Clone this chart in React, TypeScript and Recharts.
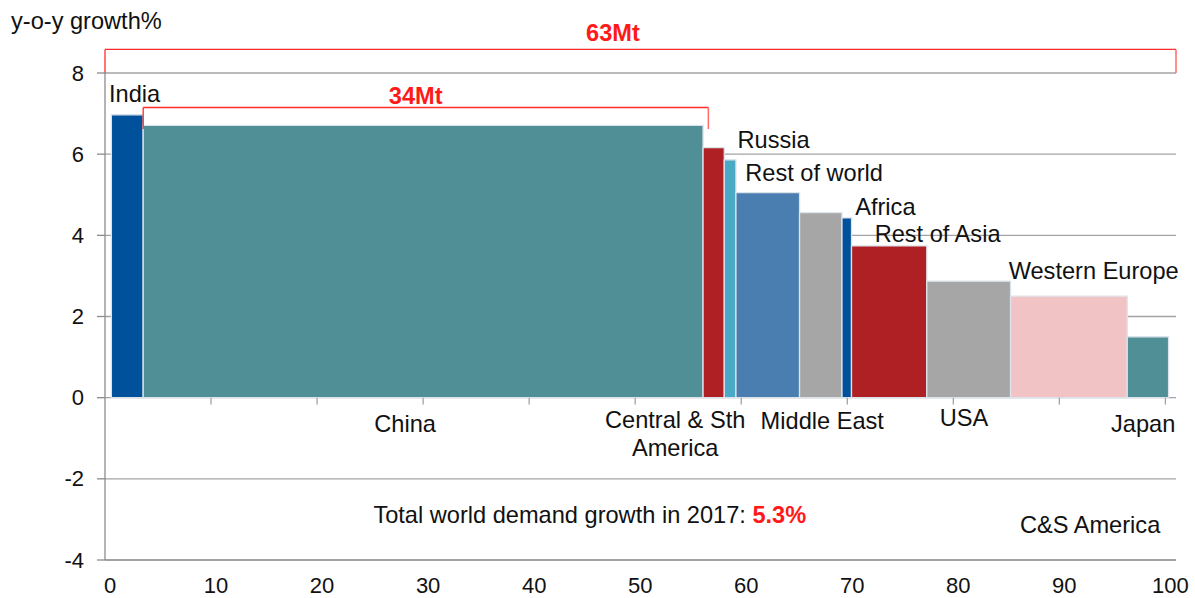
import React from "react";
import {
  ComposedChart,
  XAxis,
  YAxis,
  CartesianGrid,
  ReferenceArea,
  ReferenceLine,
  ReferenceDot,
  Label,
} from "recharts";

// regions, in the order they are stacked along the x axis
const regions = [
  "India",
  "China",
  "Central & Sth America",
  "Russia",
  "Rest of world",
  "Middle East",
  "Africa",
  "Rest of Asia",
  "USA",
  "Western Europe",
  "Japan",
];
// share of world demand (bar width, %)
const demandShare = [3.0, 52.8, 2.0, 1.1, 6.0, 4.0, 0.9, 7.1, 7.9, 11.0, 3.9];
// y-o-y growth (bar height, %)
const growth = [6.97, 6.71, 6.16, 5.86, 5.05, 4.56, 4.43, 3.74, 2.87, 2.5, 1.5];

const xTicks = [0, 10, 20, 30, 40, 50, 60, 70, 80, 90, 100];
const yTicks = [-4, -2, 0, 2, 4, 6, 8];

const totalGrowth = "5.3%";
const bracketLabels = ["63Mt", "34Mt"];
const bracketFrom = [0, 3.6];
const bracketTo = [101, 56.9];

// ---- styling / layout (not data) ----
const FONT = '"Liberation Sans", Arial, sans-serif';
const FS = 23.6;
const X_START = 0.6;
const colors = [
  "#00519c",
  "#518f97",
  "#ae2024",
  "#4aa9c5",
  "#4b7eb0",
  "#a6a6a6",
  "#00519c",
  "#ae2024",
  "#a6a6a6",
  "#f2c3c4",
  "#518f97",
];
const bracketTop = [8.58, 7.15];
const bracketBase = [8.0, 6.62];
const bracketText = [
  { x: 47.9, y: 8.98 },
  { x: 29.3, y: 7.44 },
];

// where each region name sits (data coords)
const labelPos: Record<string, { x: number; y: number; anchor: "start" | "middle"; lines?: string[] }> = {
  India: { x: 0.38, y: 7.49, anchor: "start" },
  China: { x: 28.3, y: -0.65, anchor: "middle" },
  "Central & Sth America": { x: 53.77, y: -0.55, anchor: "middle", lines: ["Central & Sth", "America"] },
  Russia: { x: 59.65, y: 6.35, anchor: "start" },
  "Rest of world": { x: 60.38, y: 5.53, anchor: "start" },
  "Middle East": { x: 67.64, y: -0.57, anchor: "middle" },
  Africa: { x: 70.75, y: 4.71, anchor: "start" },
  "Rest of Asia": { x: 72.58, y: 4.04, anchor: "start" },
  USA: { x: 81.0, y: -0.51, anchor: "middle" },
  "Western Europe": { x: 85.22, y: 3.11, anchor: "start" },
  Japan: { x: 97.9, y: -0.65, anchor: "middle" },
};

let cursor = X_START;
const bars = regions.map((name, i) => {
  const x1 = cursor;
  cursor += demandShare[i];
  return { name, x1, x2: cursor, y: growth[i], color: colors[i] };
});

const XTick = (props: any) => {
  const { x, y, payload } = props;
  return (
    <text x={x + 5} y={y + 33} textAnchor="middle" fontSize={22} fontFamily={FONT} fill="#111">
      {payload.value}
    </text>
  );
};

const YTick = (props: any) => {
  const { x, y, payload } = props;
  return (
    <text x={x} y={y} textAnchor="end" dominantBaseline="central" fontSize={22} fontFamily={FONT} fill="#111">
      {payload.value}
    </text>
  );
};

// text drawn at a data point
const textShape =
  (lines: string[], anchor: "start" | "middle", opts: { color?: string; bold?: boolean } = {}) =>
  (p: any) =>
    (
      <text
        x={p.cx}
        y={p.cy}
        textAnchor={anchor}
        dominantBaseline="central"
        fontSize={FS}
        fontFamily={FONT}
        fontWeight={opts.bold ? 700 : 400}
        fill={opts.color || "#111"}
      >
        {lines.map((l, i) => (
          <tspan key={i} x={p.cx} dy={i === 0 ? 0 : 27.6}>
            {l}
          </tspan>
        ))}
      </text>
    );

export default function App() {
  return (
    <div style={{ position: "absolute", left: 0, top: 0, background: "#fff" }}>
      <ComposedChart width={1195} height={598} data={bars} margin={{ top: 73, right: 19, bottom: 0, left: 0 }}>
        <CartesianGrid horizontal vertical={false} stroke="#a3a3a3" strokeWidth={1.3} />
        <XAxis
          type="number"
          dataKey="x1"
          domain={[0, 101]}
          ticks={xTicks}
          interval={0}
          allowDataOverflow
          height={38}
          tickLine={false}
          tickSize={0}
          tickMargin={0}
          axisLine={{ stroke: "#999", strokeWidth: 1.3 }}
          tick={<XTick />}
        />
        <YAxis
          type="number"
          domain={[-4, 8]}
          ticks={yTicks}
          interval={0}
          allowDataOverflow
          width={105}
          tickSize={8}
          tickMargin={13}
          tickLine={{ stroke: "#8c8c8c", strokeWidth: 1.3 }}
          axisLine={{ stroke: "#8c8c8c", strokeWidth: 1.3 }}
          tick={<YTick />}
        >
          <Label
            content={(p: any) => (
              <text
                x={11}
                y={p.viewBox.y - 52.5}
                dominantBaseline="central"
                fontSize={FS}
                fontFamily={FONT}
                fill="#111"
              >
                y-o-y growth%
              </text>
            )}
          />
        </YAxis>

        {/* tick marks on the zero line */}
        {xTicks.slice(1).map((t) => (
          <ReferenceLine
            key={"zt" + t}
            segment={[
              { x: t, y: 0 },
              { x: t, y: -0.17 },
            ]}
            stroke="#a3a3a3"
            strokeWidth={1.3}
            ifOverflow="visible"
          />
        ))}

        {/* variable-width bars */}
        {bars.map((b) => (
          <ReferenceArea
            key={b.name}
            x1={b.x1}
            x2={b.x2}
            y1={0}
            y2={b.y}
            fill={b.color}
            fillOpacity={1}
            stroke="#dde3ea"
            strokeWidth={1.3}
            ifOverflow="visible"
          />
        ))}

        {/* red brackets */}
        {bracketLabels.map((lab, i) => (
          <React.Fragment key={lab}>
            <ReferenceLine
              segment={[
                { x: bracketFrom[i], y: bracketBase[i] },
                { x: bracketFrom[i], y: bracketTop[i] },
              ]}
              stroke="#ff2a2a"
              strokeWidth={1.3}
              ifOverflow="visible"
            />
            <ReferenceLine
              segment={[
                { x: bracketFrom[i], y: bracketTop[i] },
                { x: bracketTo[i], y: bracketTop[i] },
              ]}
              stroke="#ff2a2a"
              strokeWidth={1.3}
              ifOverflow="visible"
            />
            <ReferenceLine
              segment={[
                { x: bracketTo[i], y: bracketTop[i] },
                { x: bracketTo[i], y: bracketBase[i] },
              ]}
              stroke="#ff6a6a"
              strokeWidth={1.5}
              ifOverflow="visible"
            />
            <ReferenceDot
              x={bracketText[i].x}
              y={bracketText[i].y}
              r={0}
              ifOverflow="visible"
              shape={textShape([lab], "middle", { color: "#ff1a1a", bold: true })}
            />
          </React.Fragment>
        ))}

        {/* region names */}
        {regions.map((name) => {
          const lp = labelPos[name];
          return (
            <ReferenceDot
              key={"lab" + name}
              x={lp.x}
              y={lp.y}
              r={0}
              ifOverflow="visible"
              shape={textShape(lp.lines || [name], lp.anchor)}
            />
          );
        })}

        <ReferenceDot
          x={25.31}
          y={-2.9}
          r={0}
          ifOverflow="visible"
          shape={(p: any) => (
            <text x={p.cx} y={p.cy} dominantBaseline="central" fontSize={FS} fontFamily={FONT} fill="#111">
              Total world demand growth in 2017:{" "}
              <tspan fill="#ff1a1a" fontWeight={700}>
                {totalGrowth}
              </tspan>
            </text>
          )}
        />
        <ReferenceDot
          x={92.9}
          y={-3.14}
          r={0}
          ifOverflow="visible"
          shape={textShape(["C&S America"], "middle")}
        />
      </ComposedChart>
    </div>
  );
}
